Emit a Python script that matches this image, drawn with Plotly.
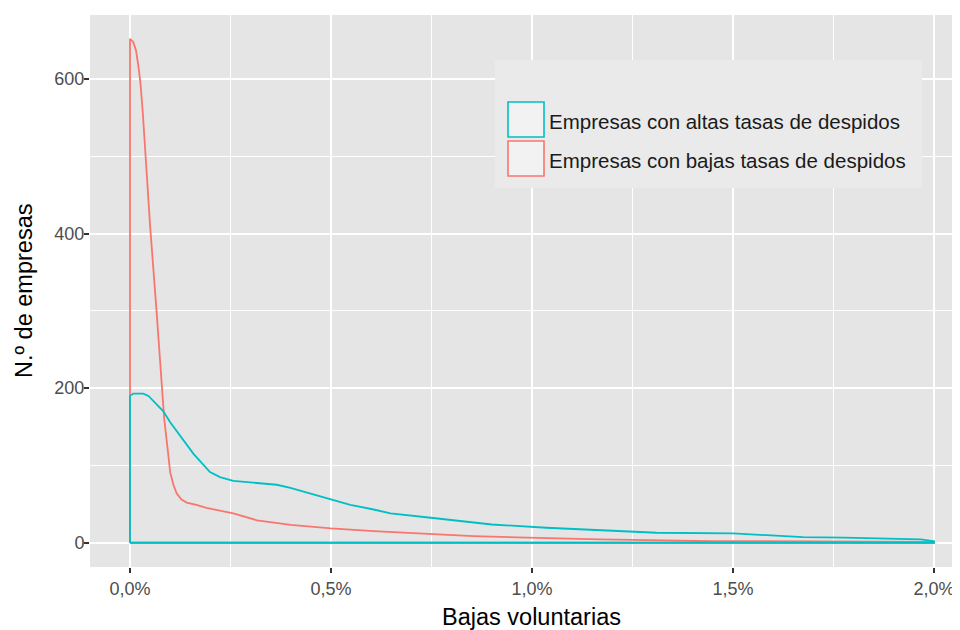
import plotly.graph_objects as go

# ---- data (x in percent, y = density counts) ----
bajas_x = [0.0, 0.0, 0.008, 0.015, 0.021, 0.026, 0.032, 0.040, 0.050, 0.066, 0.085, 0.095,
           0.100, 0.108, 0.116, 0.128, 0.141, 0.165, 0.190, 0.257, 0.316, 0.400, 0.500,
           0.606, 0.717, 0.854, 0.990, 1.170, 1.450, 1.720, 1.900, 2.000, 2.000, 0.0]
bajas_y = [0, 652, 648, 637, 616, 595, 555, 490, 410, 300, 161, 115,
           91, 75, 64, 56, 52, 49, 45, 38, 29, 23, 18.5,
           15, 12, 8.6, 6.5, 4.3, 2.2, 1.7, 1.3, 1.0, 0, 0]

altas_x = [0.0, 0.0, 0.008, 0.033, 0.046, 0.066, 0.083, 0.100, 0.125, 0.158, 0.199, 0.224,
           0.257, 0.299, 0.365, 0.399, 0.448, 0.498, 0.548, 0.606, 0.648, 0.754, 0.900,
           1.036, 1.170, 1.310, 1.500, 1.580, 1.675, 1.776, 1.967, 2.000, 2.000, 0.0]
altas_y = [0, 190, 193, 193, 190, 179, 170, 156, 138, 115, 91.5, 85,
           80, 78, 75, 71, 64, 57, 49, 43, 38, 32, 23.6,
           19.4, 16.3, 12.9, 12, 9.5, 7.3, 6.5, 4.3, 2, 0, 0]

x_ticks = [0.0, 0.005, 0.01, 0.015, 0.02]
y_ticks = [0, 200, 400, 600]

series_names = ["Empresas con altas tasas de despidos", "Empresas con bajas tasas de despidos"]
TEAL = "#00BFC4"
RED = "#F8766D"

FONT = "Liberation Sans, Arial, sans-serif"

fig = go.Figure()
fig.add_trace(go.Scatter(x=[v / 100 for v in bajas_x], y=bajas_y, mode="lines",
                         line=dict(color=RED, width=1.8), name=series_names[1], showlegend=False))
fig.add_trace(go.Scatter(x=[v / 100 for v in altas_x], y=altas_y, mode="lines",
                         line=dict(color=TEAL, width=1.8), name=series_names[0], showlegend=False))

# page body has an 8px margin -> figure drawn 8px right/down of the window origin
OFF = 8
W, H = 960 - OFF, 630 - OFF
PANEL_L, PANEL_R, PANEL_T, PANEL_B = 90, 960, 15, 567  # window pixels
L = PANEL_L - OFF
T = PANEL_T - OFF
R = W - (PANEL_R - OFF)
B = H - (PANEL_B - OFF)
PW = PANEL_R - PANEL_L
PH = PANEL_B - PANEL_T


def px(xp):
    return (xp - PANEL_L) / PW


def py(yp):
    return (PANEL_B - yp) / PH


shapes = []
annotations = []
# legend background
shapes.append(dict(type="rect", xref="paper", yref="paper", x0=px(495), x1=px(922), y0=py(188), y1=py(60),
                   fillcolor="#EAEAEA", line=dict(width=0), layer="above"))
key_rows = [(102, 137, TEAL, series_names[0]), (141, 176, RED, series_names[1])]
for top, bot, col, name in key_rows:
    shapes.append(dict(type="rect", xref="paper", yref="paper", x0=px(508), x1=px(544), y0=py(bot), y1=py(top),
                       fillcolor="#F2F2F2", line=dict(color=col, width=1.6), layer="above"))
    annotations.append(dict(xref="paper", yref="paper", x=px(547), y=py((top + bot) / 2 + 2),
                            xanchor="left", yanchor="middle", text=name, showarrow=False,
                            font=dict(family=FONT, size=20.5, color="#1A1A1A")))

annotations.append(dict(xref="paper", yref="paper", x=px(531), y=py(602), xanchor="center", yanchor="top",
                        text="Bajas voluntarias", showarrow=False,
                        font=dict(family=FONT, size=23.5, color="#000000")))
annotations.append(dict(xref="paper", yref="paper", x=px(24), y=py(291), xanchor="center", yanchor="middle",
                        text="N.º de empresas", textangle=-90, showarrow=False,
                        font=dict(family=FONT, size=23.5, color="#000000")))

fig.update_layout(
    width=W, height=H,
    margin=dict(l=L, r=R, t=T, b=B, pad=0),
    paper_bgcolor="white",
    plot_bgcolor="#E5E5E5",
    separators=",.",
    showlegend=False,
    shapes=shapes,
    annotations=annotations,
    font=dict(family=FONT),
)
fig.update_xaxes(
    range=[-0.000995, 0.020647], tickvals=x_ticks, tickformat=".1%",
    showgrid=True, gridcolor="white", gridwidth=2,
    minor=dict(dtick=0.0025, tick0=0, showgrid=True, gridcolor="white", gridwidth=1),
    ticks="outside", ticklen=5, tickwidth=1.5, tickcolor="#333333",
    tickfont=dict(family=FONT, size=18, color="#4D4D4D"),
    zeroline=False, showline=False,
)
fig.update_yaxes(
    range=[-31.4, 682.8], tickvals=y_ticks,
    showgrid=True, gridcolor="white", gridwidth=2,
    minor=dict(dtick=100, tick0=0, showgrid=True, gridcolor="white", gridwidth=1),
    ticks="outside", ticklen=5, tickwidth=1.5, tickcolor="#333333",
    tickfont=dict(family=FONT, size=18, color="#4D4D4D"),
    ticklabelstandoff=-4,
    zeroline=False, showline=False,
)

fig.write_html("out.html")
